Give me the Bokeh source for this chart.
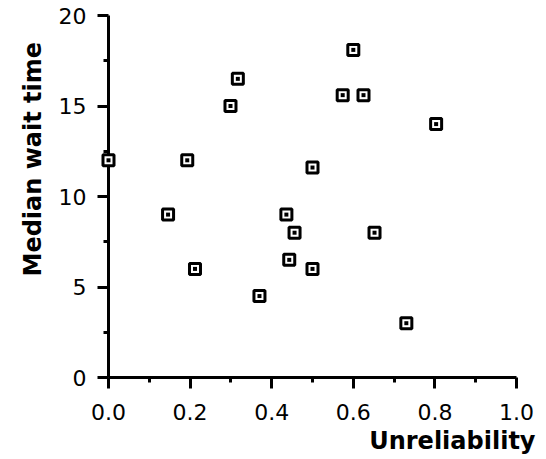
from bokeh.plotting import figure
from bokeh.models import Range1d, FixedTicker, NumeralTickFormatter, Title
from bokeh.embed import file_html
from bokeh.resources import INLINE

# Data
unreliability = [0.0, 0.146, 0.193, 0.212, 0.299, 0.317, 0.370, 0.436, 0.443,
                 0.456, 0.500, 0.500, 0.600, 0.574, 0.625, 0.652, 0.730, 0.803]
median_wait = [12.0, 9.0, 12.0, 6.0, 15.0, 16.5, 4.5, 9.0, 6.5,
               8.0, 11.6, 6.0, 18.1, 15.6, 15.6, 8.0, 3.0, 14.0]

x_ticks = [0.0, 0.2, 0.4, 0.6, 0.8, 1.0]
x_minor = [0.1, 0.3, 0.5, 0.7, 0.9]
y_ticks = [0, 5, 10, 15, 20]
y_minor = [2.5, 7.5, 12.5, 17.5]

x_title = "Unreliability"
y_title = "Median wait time"

p = figure(frame_width=408, frame_height=362,
           x_range=Range1d(0, 1.0), y_range=Range1d(0, 20),
           min_border_left=108, min_border_right=30,
           min_border_top=15, min_border_bottom=82,
           output_backend="svg", toolbar_location=None)
p.outline_line_color = None
p.background_fill_color = "white"
p.border_fill_color = "white"
p.xgrid.visible = False
p.ygrid.visible = False

for ax in (p.xaxis[0], p.yaxis[0]):
    ax.axis_line_width = 3
    ax.axis_line_color = "black"
    ax.major_tick_line_width = 3
    ax.minor_tick_line_width = 3
    ax.major_tick_in = 0
    ax.minor_tick_in = 0
    ax.major_tick_out = 11
    ax.minor_tick_out = 5
    ax.major_label_text_font = "DejaVu Sans"
    ax.major_label_text_font_size = "22px"
    ax.major_label_text_color = "black"

xa = p.xaxis[0]
xa.ticker = FixedTicker(ticks=x_ticks, minor_ticks=x_minor)
xa.formatter = NumeralTickFormatter(format="0.0")
xa.major_label_standoff = 15

ya = p.yaxis[0]
ya.ticker = FixedTicker(ticks=y_ticks, minor_ticks=y_minor)
ya.major_label_standoff = 11

p.add_layout(Title(text=x_title, align="right", offset=-19, standoff=4,
                   text_font="DejaVu Sans", text_font_style="bold",
                   text_font_size="24px", text_color="black"), "below")
p.add_layout(Title(text=y_title, align="left", offset=101, standoff=17,
                   text_font="DejaVu Sans", text_font_style="bold",
                   text_font_size="24px", text_color="black"), "left")

p.scatter(unreliability, median_wait, marker="square", size=11,
          fill_color="white", line_color="black", line_width=3, level="overlay")
p.scatter(unreliability, median_wait, marker="square", size=4,
          fill_color="black", line_color=None, level="overlay")

open("out.html", "w").write(file_html(p, INLINE))
